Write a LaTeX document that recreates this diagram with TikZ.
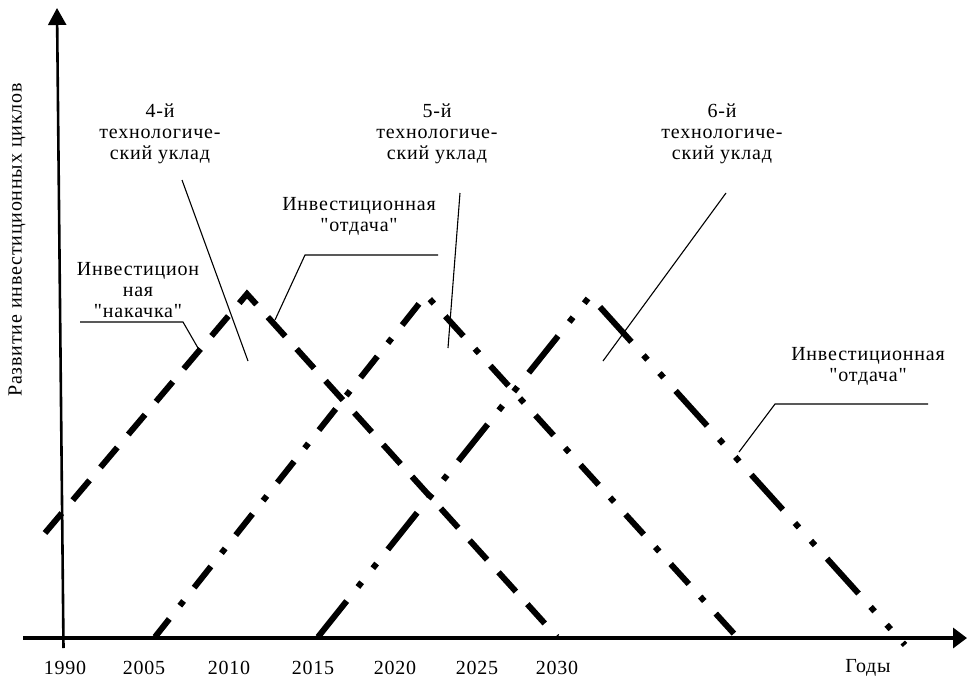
\documentclass[tikz,border=0pt]{standalone}
\usepackage{fontspec}
\newfontfamily\chartfont{Liberation Serif}[LetterSpace=4]
\usetikzlibrary{arrows.meta}

\begin{document}
\begin{tikzpicture}[x=1pt, y=-1pt,
  every node/.style={font=\chartfont\fontsize{20}{21}\selectfont, align=center, inner sep=0pt},
  wave/.style={line width=6pt},
  leader/.style={line width=1.1pt}]
  \useasboundingbox (0,0) rectangle (967,683);
  % axes
  \draw[line width=4pt, -{Triangle[length=14pt,width=20pt]}] (23,638) -- (967,638);
  \draw[line width=2.6pt, -{Triangle[length=17pt,width=18pt]}] (63.5,648) -- (57,8);
  \node[rotate=90] (ylab) at (17,240) {Развитие инвестиционных циклов};
  \foreach \yr/\xp in {1990/65, 2005/144, 2010/229, 2015/313, 2020/395, 2025/477, 2030/557} {
    \node (yr\yr) at (\xp,668) {\yr};
  }
  \node (years) at (868,668) {Годы};
  % cycles
  \draw[wave, dash pattern=on 26pt off 17pt] (45,533) -- (247,294) -- (557,637);
  \draw[wave, dash pattern=on 27pt off 17pt on 6pt off 17pt, dash phase=4pt] (155,637) -- (426,295) -- (737,637);
  \draw[wave, dash pattern=on 47pt off 18pt on 6pt off 18pt on 6pt off 18pt, dash phase=1pt] (318,637) -- (590,296) -- (905,645);
  % labels
  \node (u4) at (160,134) {4-й\\технологиче-\\ский уклад};
  \node (u5) at (437,134) {5-й\\технологиче-\\ский уклад};
  \node (u6) at (722,134) {6-й\\технологиче-\\ский уклад};
  \node (pump) at (138,290) {Инвестицион\\ная\\"накачка"};
  \node (ret1) at (359,216) {Инвестиционная\\"отдача"};
  \node (ret2) at (868,366) {Инвестиционная\\"отдача"};
  % leaders
  \coordinate (u4a) at (182,180); \coordinate (u4b) at (248,361);
  \coordinate (u5a) at (460,193); \coordinate (u5b) at (448,348);
  \coordinate (u6a) at (726,193); \coordinate (u6b) at (603,361);
  \coordinate (pa) at (80,322); \coordinate (pb) at (183,322); \coordinate (pc) at (198,348);
  \coordinate (r1a) at (438,255); \coordinate (r1b) at (305,255); \coordinate (r1c) at (275,320);
  \coordinate (r2a) at (928,404); \coordinate (r2b) at (775,404); \coordinate (r2c) at (739,452);
  \draw[leader] (u4a) -- (u4b);
  \draw[leader] (u5a) -- (u5b);
  \draw[leader] (u6a) -- (u6b);
  \draw[leader] (pa) -- (pb) -- (pc);
  \draw[leader] (r1a) -- (r1b) -- (r1c);
  \draw[leader] (r2a) -- (r2b) -- (r2c);
\end{tikzpicture}
\end{document}
